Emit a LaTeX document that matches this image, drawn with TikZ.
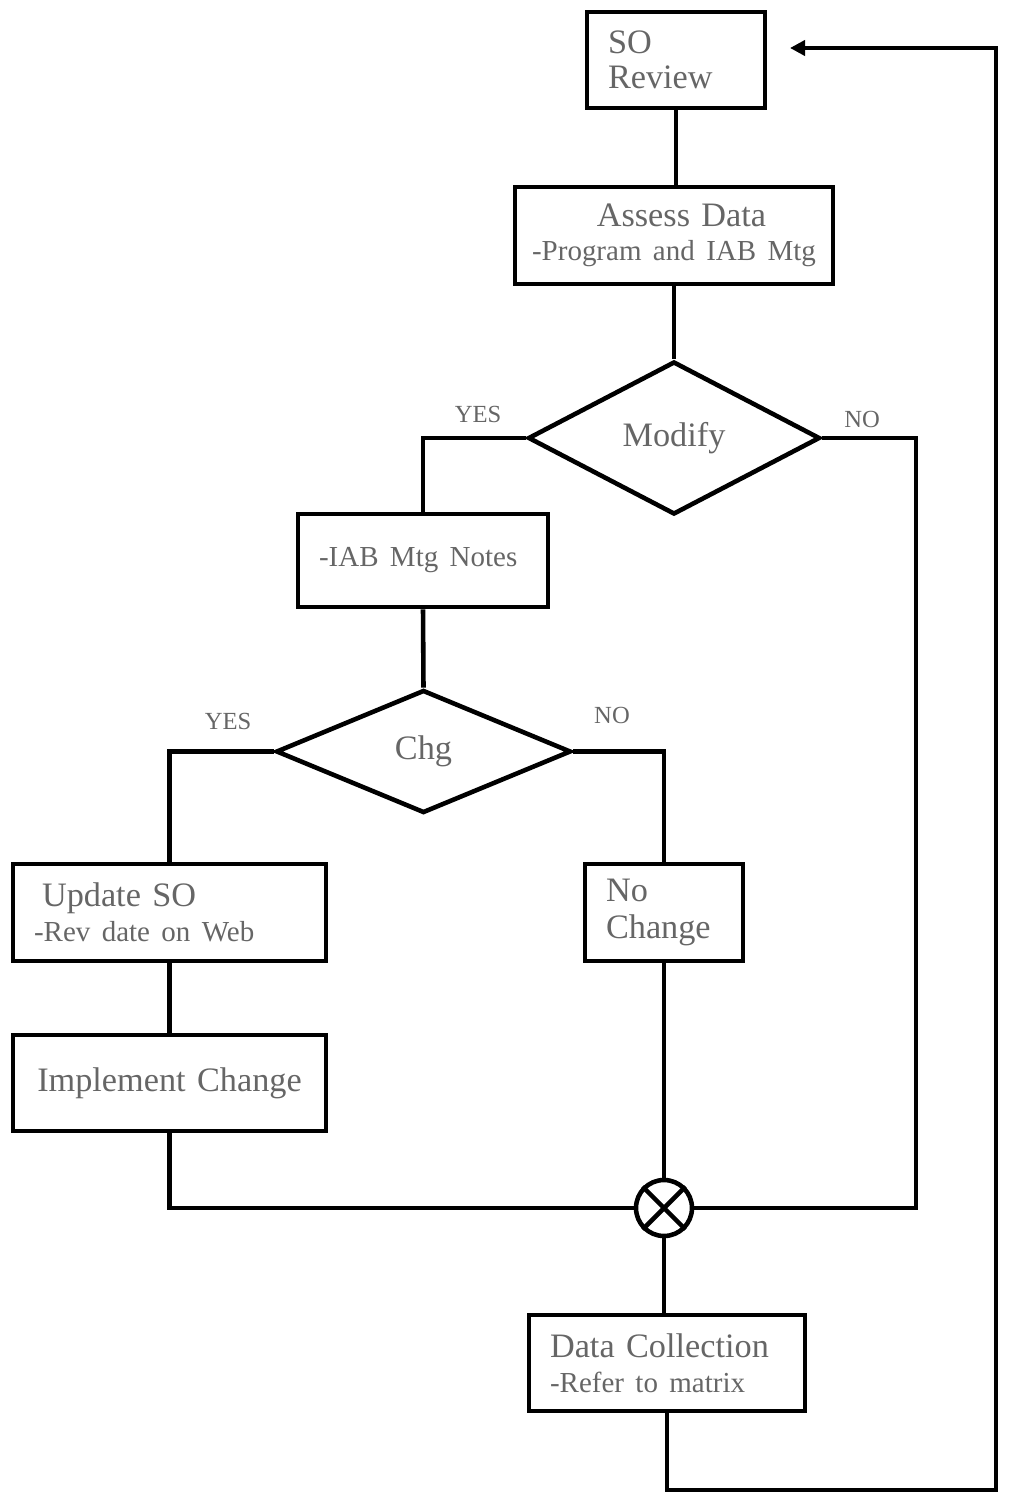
\documentclass[tikz,border=0pt]{standalone}
\usepackage{fontspec}
\setmainfont{Liberation Serif}
\usetikzlibrary{positioning,arrows.meta,shapes.geometric}
\definecolor{cInk}{HTML}{666666}
\newcommand{\subtxt}{\fontsize{16.5}{19}\selectfont}

\begin{document}
\begin{tikzpicture}[x=0.02cm,y=-0.02cm,
      box/.style={draw,line width=2.6pt,rectangle,inner xsep=0.42cm,inner ysep=0pt,align=left,
                  text=cInk,font=\fontsize{19.5}{20}\selectfont},
      dec/.style={draw,line width=2.6pt,diamond,inner sep=0pt,text=cInk,
                  font=\fontsize{19.5}{20}\selectfont},
      yn/.style={text=cInk,font=\fontsize{14}{14}\selectfont,inner sep=0pt},
      wire/.style={line width=2.6pt}]
    \useasboundingbox (0,0) rectangle (1013,1500);
    \node[box,text width=2.72cm,minimum height=1.92cm] (so) at (676,60) {SO\\Review};
    \node[box,align=center,inner xsep=0.1cm,text width=6.16cm,minimum height=1.94cm] (assess) at (674,235.5)
      {\hspace{0.3cm}Assess Data\\[-1pt]{\subtxt -Program and IAB Mtg}};
    \node[dec,minimum width=5.84cm,minimum height=3.06cm] (modify) at (674,438) {Modify};
    \node[box,text width=4.16cm,minimum height=1.86cm] (iab) at (423,560.5) {\subtxt -IAB Mtg Notes};
    \node[dec,minimum width=5.9cm,minimum height=2.46cm] (chg) at (423.5,751.5) {Chg};
    \node[box,text width=5.42cm,minimum height=1.94cm] (update) at (169.5,912.5)
      {\hspace{0.16cm}Update SO\\{\subtxt -Rev date on Web}};
    \node[box,align=center,text width=5.42cm,minimum height=1.92cm] (implement) at (169.5,1083)
      {Implement Change};
    \node[box,text width=2.32cm,minimum height=1.94cm] (nochange) at (664,912.5) {No\\[1pt]Change};
    \node[circle,draw,line width=2.6pt,minimum size=1.12cm,inner sep=0pt] (join) at (664,1208) {};
    \node[box,text width=4.68cm,minimum height=1.92cm] (collect) at (667,1363)
      {Data Collection\\{\subtxt -Refer to matrix}};
    \node[yn] (yes1) at (478,414) {YES};
    \node[yn] (no1) at (862,419) {NO};
    \node[yn] (yes2) at (228,721) {YES};
    \node[yn] (no2) at (612,715) {NO};
    \coordinate (noright) at (916,1208);
    \coordinate (loopbr) at (996,1490);
    \coordinate (back) at (790,48);
    \draw[wire] (join.north west) -- (join.south east) (join.north east) -- (join.south west);
    \draw[wire] (so.south) -- (so.south |- assess.north);
    \draw[wire] (assess.south) -- (modify.north);
    \draw[wire] (modify.west) -| (iab.north);
    \draw[wire] (modify.east) -| (noright) -- (join.east);
    \draw[wire] (iab.south) -- (chg.north);
    \draw[wire] (chg.west) -| (update.north);
    \draw[wire] (chg.east) -| (nochange.north);
    \draw[wire] (update.south) -- (implement.north);
    \draw[wire] (implement.south) |- (join.west);
    \draw[wire] (nochange.south) -- (join.north);
    \draw[wire] (join.south) -- (join.south |- collect.north);
    \draw[wire,-{Triangle[length=0.3cm,width=0.3cm]}] (collect.south) |- (loopbr) |- (back);
  \end{tikzpicture}
\end{document}
